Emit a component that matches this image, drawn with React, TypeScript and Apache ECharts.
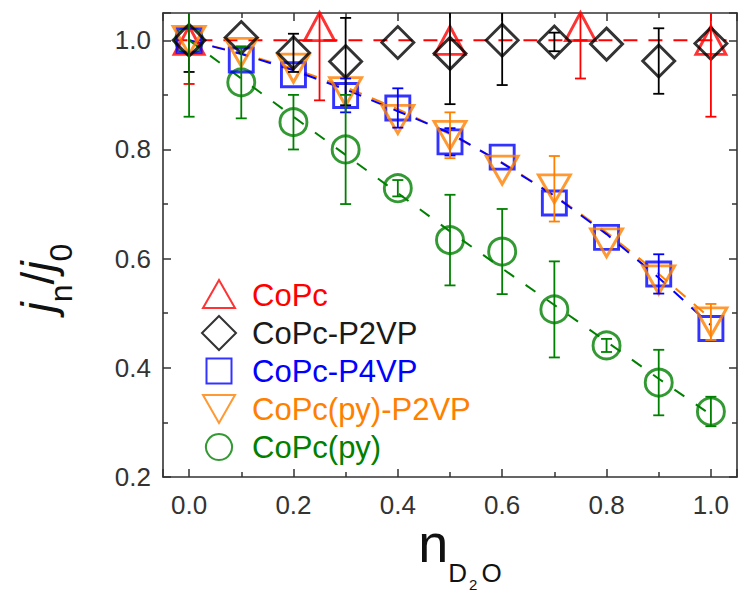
import React, { useEffect, useRef } from 'react';
import * as echarts from 'echarts';

// ---- data ----
const nValues = [0, 0.1, 0.2, 0.3, 0.4, 0.5, 0.6, 0.7, 0.8, 0.9, 1.0];

const copcX = [0, 0.25, 0.5, 0.75, 1.0];
const copcY = [1.0, 1.025, 1.0, 1.025, 1.0];
const copcErr = [0.08, 0.135, 0, 0.095, 0.14];

const p2vpY = [1.0, 1.005, 0.977, 0.961, 0.996, 0.976, 1.0, 0.997, 0.993, 0.962, 0.994];
const p2vpErr = [0.058, 0, 0.035, 0.08, 0, 0.093, 0.082, 0.017, 0, 0.06, 0];

const p4vpY = [1.0, 0.964, 0.937, 0.899, 0.876, 0.814, 0.786, 0.702, 0.639, 0.572, 0.472];
const p4vpErr = [0, 0, 0, 0.031, 0.036, 0.025, 0, 0, 0, 0.036, 0];

const pyP2vpY = [1.0, 0.978, 0.949, 0.906, 0.855, 0.826, 0.762, 0.728, 0.629, 0.561, 0.484];
const pyP2vpErr = [0, 0, 0, 0, 0, 0.042, 0, 0.06, 0, 0, 0.033];

const pyY = [1.0, 0.923, 0.85, 0.8, 0.729, 0.634, 0.613, 0.507, 0.441, 0.373, 0.32];
const pyErr = [0.14, 0.066, 0.05, 0.1, 0.015, 0.083, 0.078, 0.088, 0.012, 0.06, 0.027];

// dashed guide lines
const copcFitX = [-0.03, 1.03];
const copcFitY = [1.0, 1.0];
const p4vpFitY = [1.0, 0.975, 0.945, 0.91, 0.87, 0.83, 0.775, 0.715, 0.645, 0.565, 0.478];
const pyP2vpFitY = [1.0, 0.976, 0.948, 0.914, 0.874, 0.828, 0.776, 0.716, 0.648, 0.572, 0.49];
const pyFitY = [1.0, 0.93, 0.86, 0.79, 0.72, 0.65, 0.582, 0.515, 0.448, 0.38, 0.314];

const seriesNames = ['CoPc', 'CoPc-P2VP', 'CoPc-P4VP', 'CoPc(py)-P2VP', 'CoPc(py)'];

// ---- styles ----
const FONT = '"Liberation Sans", Arial, Helvetica, sans-serif';
const RED = '#ff0000';
const BLACK = '#000000';
const BLUE = '#0000ff';
const ORANGE = '#ff8000';
const GREEN = '#008000';
const AXIS = '#333333';

const triIcon = 'path://M0,0M36,36M2,31L18,3L34,31Z';
const diamondIcon = 'path://M0,0M36,36M18,1L35,18L18,35L1,18Z';
const squareIcon = 'path://M0,0M36,36M5.5,5.5L30.5,5.5L30.5,30.5L5.5,30.5Z';
const downTriIcon = 'path://M0,0M36,36M2,4L34,4L18,32Z';
const circleIcon = 'path://M0,0M36,36M18,5A13,13,0,1,1,17.99,5Z';
const downTriSymbol = 'path://M0,0L32,0L16,28Z';

function pts(xs: number[], ys: number[]) {
  return xs.map((x, i) => [x, ys[i]]);
}
function errData(xs: number[], ys: number[], es: number[]) {
  const out: number[][] = [];
  xs.forEach((x, i) => {
    if (es[i] > 0) out.push([x, ys[i] - es[i], ys[i] + es[i]]);
  });
  return out;
}

function errSeries(data: number[][], color: string) {
  return {
    type: 'custom',
    xAxisIndex: 0,
    yAxisIndex: 0,
    clip: true,
    silent: true,
    z: 4,
    encode: { x: 0, y: [1, 2] },
    data,
    renderItem: (params: any, api: any) => {
      const x = api.value(0);
      const lo = api.coord([x, api.value(1)]);
      const hi = api.coord([x, api.value(2)]);
      const hw = 5.5;
      const style = { stroke: color, lineWidth: 1.8, fill: 'none' };
      return {
        type: 'group',
        children: [
          { type: 'line', shape: { x1: hi[0], y1: hi[1], x2: lo[0], y2: lo[1] }, style },
          { type: 'line', shape: { x1: hi[0] - hw, y1: hi[1], x2: hi[0] + hw, y2: hi[1] }, style },
          { type: 'line', shape: { x1: lo[0] - hw, y1: lo[1], x2: lo[0] + hw, y2: lo[1] }, style },
        ],
      };
    },
  };
}

function fitSeries(name: string, data: number[][], color: string, dash: number[]) {
  return {
    name,
    type: 'line',
    xAxisIndex: 0,
    yAxisIndex: 0,
    data,
    showSymbol: false,
    symbol: 'none',
    silent: true,
    z: 1,
    lineStyle: { color, width: 2, type: dash },
  };
}

function markerSeries(name: string, data: number[][], symbol: string, size: any, color: string, z: number) {
  return {
    name,
    type: 'scatter',
    xAxisIndex: 0,
    yAxisIndex: 0,
    data,
    symbol,
    symbolSize: size,
    z,
    itemStyle: { color: 'rgba(0,0,0,0)', borderColor: color, borderWidth: 2.9 },
  };
}

const tickFmt = (v: number) => (Math.abs(v * 5 - Math.round(v * 5)) < 1e-6 ? v.toFixed(1) : '');

function makeXAxis(pos: 'bottom' | 'top', main: boolean) {
  return {
    type: 'value',
    position: pos,
    min: -0.05,
    max: 1.05,
    splitNumber: 5,
    nameMoveOverlap: false,
    axisLine: { show: true, onZero: false, lineStyle: { color: AXIS, width: 1.6 } },
    axisTick: { show: true, inside: true, length: 8, lineStyle: { color: AXIS, width: 1.5 } },
    minorTick: { show: true, splitNumber: 2, length: 5, lineStyle: { color: AXIS, width: 1.5 } },
    splitLine: { show: false },
    axisLabel: main
      ? { show: true, formatter: tickFmt, fontSize: 26, color: AXIS, fontFamily: FONT, margin: 15 }
      : { show: false },
    ...(main
      ? {
          name: '{n|n}{d|D}{t|2}{d|O}',
          nameLocation: 'middle',
          nameGap: 39,
          nameTextStyle: {
            padding: [0, 0, 0, 20],
            rich: {
              n: { fontSize: 54, lineHeight: 54, fontFamily: FONT, color: '#111' },
              d: { fontSize: 26, lineHeight: 26, fontFamily: FONT, color: '#111', padding: [59, 0, 0, 0] },
              t: { fontSize: 15, lineHeight: 15, fontFamily: FONT, color: '#111', padding: [82, 4, 0, 2] },
            },
          },
        }
      : {}),
  };
}

function makeYAxis(pos: 'left' | 'right', main: boolean) {
  return {
    type: 'value',
    position: pos,
    min: 0.2,
    max: 1.05,
    interval: 0.2,
    nameMoveOverlap: false,
    axisLine: { show: true, onZero: false, lineStyle: { color: AXIS, width: 1.6 } },
    axisTick: { show: true, inside: true, length: 8, lineStyle: { color: AXIS, width: 1.5 } },
    minorTick: { show: true, splitNumber: 2, length: 5, lineStyle: { color: AXIS, width: 1.5 } },
    splitLine: { show: false },
    axisLabel: main
      ? { show: true, formatter: tickFmt, fontSize: 26, color: AXIS, fontFamily: FONT, margin: 12 }
      : { show: false },
    ...(main
      ? {
          name: '{j|j}{s|n}{r|/}{j|j}{s|0}',
          nameLocation: 'middle',
          nameRotate: 90,
          nameGap: 102,
          nameTextStyle: {
            padding: [0, 66, 0, 0],
            rich: {
              j: { fontSize: 46, lineHeight: 46, fontStyle: 'italic', fontFamily: FONT, color: '#111' },
              r: { fontSize: 46, lineHeight: 46, fontFamily: FONT, color: '#111' },
              s: { fontSize: 32, lineHeight: 32, fontFamily: FONT, color: '#111', padding: [45, 0, 0, 0] },
            },
          },
        }
      : {}),
  };
}

export default function App() {
  const ref = useRef<HTMLDivElement>(null);

  useEffect(() => {
    if (!ref.current) return;
    const chart = echarts.init(ref.current, null, { renderer: 'svg' });

    const option: any = {
      animation: false,
      backgroundColor: '#ffffff',
      grid: { left: 163, right: 3, top: 13, bottom: 117, containLabel: false, outerBoundsMode: 'none' },
      xAxis: [makeXAxis('bottom', true), makeXAxis('top', false)],
      yAxis: [makeYAxis('left', true), makeYAxis('right', false)],
      legend: {
        orient: 'vertical',
        left: 195,
        top: 271,
        itemWidth: 36,
        itemHeight: 36,
        itemGap: 0,
        selectedMode: false,
        textStyle: { fontSize: 31, lineHeight: 36, fontFamily: FONT, padding: [0, 0, 0, 10] },
        data: [
          { name: seriesNames[0], icon: triIcon, textStyle: { color: RED } },
          { name: seriesNames[1], icon: diamondIcon, textStyle: { color: '#1a1a1a' } },
          { name: seriesNames[2], icon: squareIcon, textStyle: { color: BLUE } },
          { name: seriesNames[3], icon: downTriIcon, textStyle: { color: ORANGE } },
          { name: seriesNames[4], icon: circleIcon, textStyle: { color: GREEN } },
        ],
      },
      series: [
        fitSeries('fit-CoPc', pts(copcFitX, copcFitY), RED, [14, 11]),
        fitSeries('fit-CoPc(py)-P2VP', pts(nValues, pyP2vpFitY), ORANGE, [13, 11]),
        fitSeries('fit-CoPc-P4VP', pts(nValues, p4vpFitY), BLUE, [13, 11]),
        fitSeries('fit-CoPc(py)', pts(nValues, pyFitY), GREEN, [12, 14]),
        markerSeries(seriesNames[4], pts(nValues, pyY), 'circle', 27, GREEN, 2),
        markerSeries(seriesNames[0], pts(copcX, copcY), 'triangle', [30, 28], RED, 2),
        markerSeries(seriesNames[2], pts(nValues, p4vpY), 'rect', 24, BLUE, 2),
        markerSeries(seriesNames[3], pts(nValues, pyP2vpY), downTriSymbol, [32, 28], ORANGE, 2),
        markerSeries(seriesNames[1], pts(nValues, p2vpY), 'diamond', 32, BLACK, 3),
        errSeries(errData(copcX, copcY, copcErr), RED),
        errSeries(errData(nValues, p4vpY, p4vpErr), BLUE),
        errSeries(errData(nValues, pyP2vpY, pyP2vpErr), ORANGE),
        errSeries(errData(nValues, p2vpY, p2vpErr), BLACK),
        errSeries(errData(nValues, pyY, pyErr), GREEN),
      ],
    };

    chart.setOption(option);
    return () => chart.dispose();
  }, []);

  return (
    <div
      ref={ref}
      style={{ position: 'fixed', left: 0, top: 0, width: 740, height: 594, background: '#fff' }}
    />
  );
}
